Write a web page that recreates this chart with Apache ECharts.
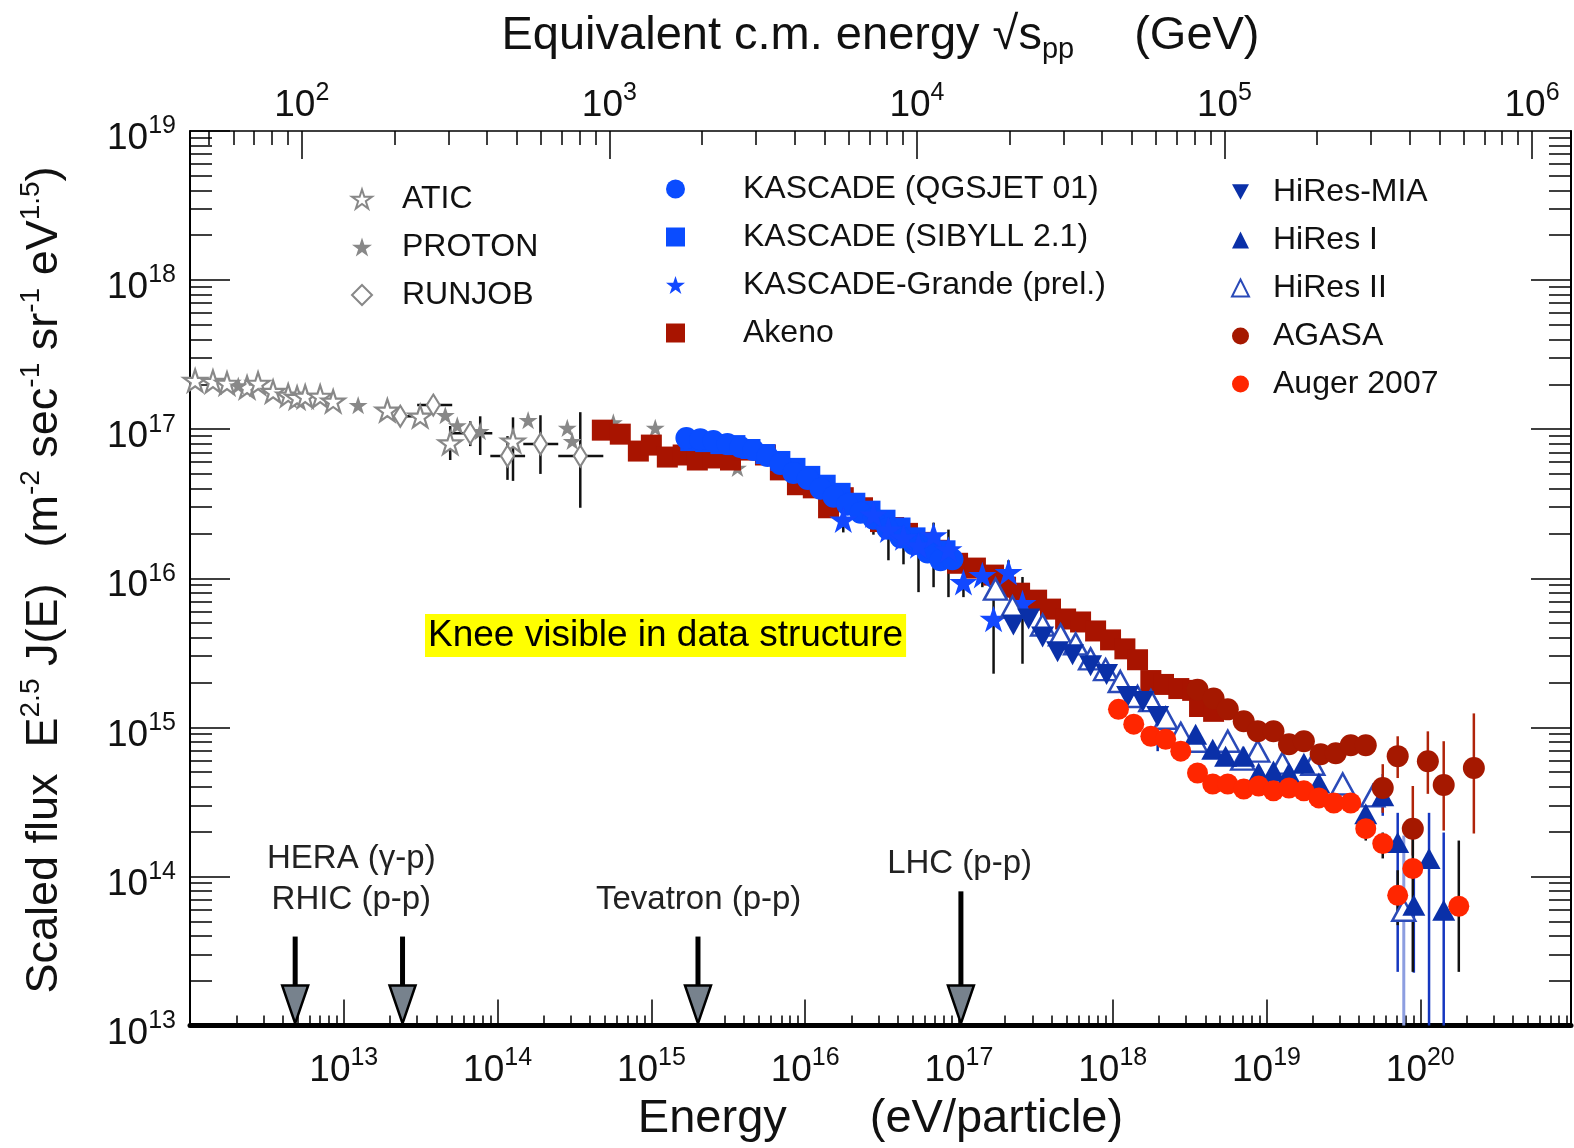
<!DOCTYPE html>
<html><head><meta charset="utf-8">
<script src="https://cdn.jsdelivr.net/npm/echarts@6/dist/echarts.min.js"></script>
<style>html,body{margin:0;padding:0;background:#fff}#c{width:1574px;height:1148px}</style>
</head><body><div id="c"></div>
<script>
// ---------- DATA (energy in eV, scaled flux E^2.5 J(E)) ----------
const atic = [[1.08e12,2.12e17],[1.41e12,2.09e17],[1.74e12,2.03e17],[2.35e12,1.91e17],[2.77e12,2.03e17],[3.47e12,1.79e17],[4.35e12,1.69e17],[4.97e12,1.63e17],[5.61e12,1.66e17],[7.02e12,1.66e17],[8.53e12,1.54e17],[1.92e13,1.34e17],[3.14e13,1.22e17],[4.92e13,8.07e16],[1.26e14,8.32e16]];
const aticErr = [[4.92e13,6.21e16,1.05e17],[1.26e14,4.5e16,1.2e17]];
const proton = [[2.06e12,1.96e17],[1.24e13,1.45e17],[4.57e13,1.24e17],[5.47e13,1.06e17],[7.71e13,9.7e16],[1.58e14,1.15e17],[2.84e14,1.02e17],[3.06e14,8.32e16],[5.66e14,1.11e17],[1.06e15,1.02e17],[3.63e15,5.5e16]];
const protonErr = [[7.71e13,6.71e16,1.22e17]];
const runjob = [[2.33e13,1.22e17],[3.82e13,1.45e17],[6.64e13,9.4e16],[1.16e14,6.61e16],[1.90e14,7.94e16],[3.45e14,6.61e16]];
const runjobErrE = [[1.22e17,1.92e13,3.0e13],[1.45e17,3.0e13,5.07e13],[9.4e16,4.92e13,9.24e13],[6.61e16,8.97e13,1.51e14],[7.94e16,1.47e14,2.48e14],[6.61e16,2.48e14,4.87e14]];
const runjobErrF = [[6.64e13,7.7e16,1.13e17],[1.16e14,4.57e16,8.98e16],[1.90e14,5.01e16,1.24e17],[3.45e14,2.97e16,1.30e17]];
const kascadeQ = [[1.69e15,8.71e16],[2.08e15,8.57e16],[2.53e15,8.32e16],[3.12e15,7.94e16],[3.79e15,7.59e16],[4.61e15,7.24e16],[5.69e15,6.61e16],[6.9e15,5.84e16],[8.39e15,5.09e16],[1.04e16,4.64e16],[1.26e16,3.98e16],[1.53e16,3.52e16],[1.88e16,3.11e16],[2.29e16,2.75e16],[2.78e16,2.51e16],[3.43e16,2.15e16],[4.17e16,1.88e16],[5.07e16,1.69e16],[6.25e16,1.49e16],[7.59e16,1.32e16],[9.08e16,1.34e16]];
const kascadeS = [[1.79e15,8.32e16],[2.24e15,8.19e16],[2.81e15,7.94e16],[3.52e15,7.82e16],[4.41e15,7.36e16],[5.52e15,6.81e16],[6.9e15,6.12e16],[8.65e15,5.5e16],[1.08e16,4.86e16],[1.36e16,4.24e16],[1.70e16,3.74e16],[2.12e16,3.21e16],[2.66e16,2.84e16],[3.33e16,2.47e16],[4.17e16,2.19e16],[5.22e16,1.88e16],[6.53e16,1.71e16],[8.18e16,1.54e16]];
const grande = [[1.77e16,2.47e16],[2.78e16,2.67e16],[3.48e16,2.12e16],[4.36e16,1.88e16],[5.46e16,1.66e16],[6.84e16,1.94e16],[8.55e16,1.56e16],[1.07e17,9.4e15],[1.42e17,1.05e16],[2.10e17,1.10e16],[1.68e17,5.33e15],[2.59e17,6.81e15]];
const grandeErr = [[1.77e16,2.03e16,2.97e16],[2.78e16,1.96e16,3.21e16],[3.48e16,1.32e16,2.55e16],[4.36e16,1.24e16,2.26e16],[5.46e16,8.07e15,1.88e16],[6.84e16,8.71e15,2.36e16],[8.55e16,7.47e15,2.12e16],[1.07e17,7.47e15,1.10e16],[1.42e17,8.71e15,1.28e16],[2.10e17,7.47e15,1.32e16],[1.68e17,2.29e15,1.02e16],[2.59e17,2.67e15,1.02e16]];
const akeno = [[4.80e14,9.85e16],[6.28e14,9.26e16],[8.23e14,7.13e16],[1.00e15,7.82e16],[1.27e15,6.5e16],[1.61e15,6.71e16],[1.99e15,6.21e16],[2.53e15,6.41e16],[3.27e15,6.21e16],[4.09e15,7.24e16],[5.52e15,6.71e16],[6.9e15,5.33e16],[8.91e15,4.24e16],[1.13e16,4.04e16],[1.42e16,2.97e16],[1.77e16,3.47e16],[2.36e16,2.97e16],[3.09e16,2.40e16],[3.76e16,2.19e16],[4.63e16,2.0e16],[5.80e16,1.74e16],[7.26e16,1.54e16],[9.8e16,1.26e16],[1.28e17,1.17e16],[1.68e17,1.05e16],[2.01e17,8.71e15],[2.48e17,7.94e15],[3.2e17,7.13e15],[3.94e17,6.21e15],[4.94e17,5.33e15],[6.18e17,5.09e15],[7.74e17,4.43e15],[9.68e17,3.86e15],[1.20e18,3.36e15],[1.45e18,2.84e15],[1.77e18,2.06e15],[2.14e18,1.94e15],[2.69e18,1.82e15],[3.31e18,1.77e15],[3.67e18,1.38e15],[4.53e18,1.28e15]];
const hiresMia = [[2.26e17,4.86e15],[2.84e17,5.33e15],[3.50e17,4.04e15],[4.38e17,3.21e15],[5.48e17,3.07e15],[7.18e17,2.59e15],[9.12e17,2.26e15],[1.25e18,1.61e15],[1.57e18,1.49e15],[1.96e18,1.18e15]];
const hiresMiaErr = [[1.96e18,6.92e14,1.49e15]];
const hires1 = [[3.46e18,8.98e14],[4.47e18,7.13e14],[5.42e18,6.41e14],[7.11e18,6.41e14],[8.89e18,4.94e14],[1.11e19,5.09e14],[1.40e19,4.94e14],[1.75e19,5.75e14],[2.19e19,4.24e14],[4.42e19,2.63e14],[5.70e19,3.47e14],[7.13e19,1.69e14],[9.08e19,6.41e13],[1.14e20,1.32e14],[1.42e20,5.93e13]];
const hires1Err = [[5.70e19,2.55e14,4.86e14],[7.13e19,2.29e13,2.67e14],[9.08e19,2.26e13,1.28e14],[1.14e20,1e12,2.67e14],[1.42e20,1e12,1.97e14]];
const hires2 = [[1.73e17,8.45e15],[2.23e17,6.41e15],[3.50e17,4.86e15],[4.58e17,4.17e15],[5.74e17,3.63e15],[7.18e17,2.88e15],[8.99e17,2.44e15],[1.12e18,2.03e15],[1.45e18,1.61e15],[1.77e18,1.51e15],[2.21e18,1.15e15],[2.77e18,9.12e14],[3.46e18,8.07e14],[5.6e18,8.07e14],[7.0e18,6.12e14],[8.77e18,6.92e14],[1.27e19,5.75e14],[2.0e19,5.66e14],[3.13e19,4.17e14],[4.91e19,3.47e14],[7.81e19,5.93e13]];
const hires2Err = [[7.81e19,1e12,1.88e14]];
const agasa = [[3.56e18,1.79e15],[4.53e18,1.56e15],[5.6e18,1.32e15],[7.11e18,1.10e15],[8.77e18,9.4e14],[1.11e19,9.4e14],[1.40e19,7.7e14],[1.75e19,8.07e14],[2.25e19,6.61e14],[2.82e19,6.71e14],[3.53e19,7.59e14],[4.42e19,7.59e14],[5.70e19,3.92e14],[7.13e19,6.41e14],[8.94e19,2.09e14],[1.12e20,5.93e14],[1.42e20,4.1e14],[2.23e20,5.33e14]];
const agasaErr = [[2.82e19,6.0e14,7.5e14],[4.42e19,6.8e14,8.5e14],[5.70e19,2.67e14,5.66e14],[7.13e19,4.57e14,8.71e14],[8.94e19,1.38e14,4.04e14],[1.12e20,3.58e14,9.4e14],[1.42e20,2.03e14,8.07e14],[2.23e20,1.94e14,1.24e15]];
const auger = [[1.09e18,1.32e15],[1.37e18,1.05e15],[1.77e18,8.71e14],[2.21e18,8.32e14],[2.77e18,6.92e14],[3.56e18,4.94e14],[4.47e18,4.17e14],[5.6e18,4.17e14],[7.11e18,3.86e14],[8.89e18,4.04e14],[1.11e19,3.75e14],[1.40e19,3.92e14],[1.75e19,3.75e14],[2.19e19,3.36e14],[2.74e19,3.11e14],[3.53e19,3.11e14],[4.42e19,2.09e14],[5.70e19,1.66e14],[7.13e19,7.47e13],[8.94e19,1.13e14],[1.78e20,6.31e13]];
const augerErr = [[3.56e18,4.6e14,5.3e14],[4.42e19,1.74e14,2.4e14],[5.70e19,1.32e14,1.97e14],[7.13e19,4.71e13,1.10e14],[8.94e19,2.29e13,1.88e14],[1.78e20,2.29e13,1.74e14]];
// accelerator arrows: energy, flux at top of shaft
const arrowE = [4.83e12, 2.41e13, 2.01e15, 1.03e17];
const arrowTopF = [3.95e13, 3.95e13, 3.95e13, 7.94e13];
const arrowLabelText = ['HERA (γ-p)', 'RHIC (p-p)', 'Tevatron (p-p)', 'LHC (p-p)'];
const arrowLabelE = [1.12e13, 1.12e13, 2.03e15, 1.01e17];
const arrowLabelF = [1.32e14, 6.92e13, 6.92e13, 1.22e14];
// axis ranges (log10)
const energyLogRange = [12, 20.98];
const fluxLogRange = [13, 19];
const PROTON_MASS_GEV = 0.938;

// ---------- CHART ----------
const FONT = '"Liberation Sans", Arial, Helvetica, sans-serif';
const L = Math.log10;
const XMIN = energyLogRange[0], XMAX = energyLogRange[1];
const SOFF = Math.log10(2 * PROTON_MASS_GEV) - 9;
const TMIN = (XMIN + SOFF) / 2, TMAX = (XMAX + SOFF) / 2;
const YMIN = fluxLogRange[0], YMAX = fluxLogRange[1];

function majors(a, b) { const r = []; for (let d = Math.ceil(a); d <= Math.floor(b); d++) r.push(d); return r; }
function minors(a, b) { const r = []; for (let d = Math.floor(a); d <= Math.ceil(b); d++) for (let k = 2; k <= 9; k++) { const v = d + Math.log10(k); if (v > a && v < b) r.push(v); } return r; }

const lblRich = {
  b: { fontSize: 37, lineHeight: 50, verticalAlign: 'middle', fontFamily: FONT, color: '#111' },
  s: { fontSize: 25, lineHeight: 25, verticalAlign: 'top', fontFamily: FONT, color: '#111' }
};
const powFmt = v => '{b|10}{s|' + Math.round(v) + '}';

const STAR = 'path://M50,0 L61.23,34.55 L97.55,34.55 L68.16,55.9 L79.39,90.45 L50,69.1 L20.61,90.45 L31.84,55.9 L2.45,34.55 L38.77,34.55 Z';
const DOWN_TRI = 'path://M0,0 L22,0 L11,20 Z';

function sc(name, data, opt) {
  const s = Object.assign({ type: 'scatter', name, xAxisIndex: 0, yAxisIndex: 0, silent: true, z: 3,
    data: data.map(d => [L(d[0]), L(d[1])]) }, opt);
  s.itemStyle = Object.assign({ opacity: 1 }, s.itemStyle);
  return s;
}
function err(name, data, color, width, horiz) {
  return { type: 'custom', name, xAxisIndex: 0, yAxisIndex: 0, silent: true, z: 2,
    data: data.map(d => horiz ? [L(d[1]), L(d[0]), L(d[2])] : [L(d[0]), Math.max(L(d[1]), YMIN), L(d[2])]),
    renderItem: (p, api) => {
      let a, b;
      if (horiz) { a = api.coord([api.value(0), api.value(1)]); b = api.coord([api.value(2), api.value(1)]); }
      else { a = api.coord([api.value(0), api.value(1)]); b = api.coord([api.value(0), api.value(2)]); }
      return { type: 'line', shape: { x1: a[0], y1: a[1], x2: b[0], y2: b[1] }, style: { stroke: color, lineWidth: width } };
    } };
}

const BLUE = '#0a4cff', DBLUE = '#0a30a8', AKENO = '#a81400', AGASA = '#a51800', AUGER = '#ff2600', GREY = '#888888';

const series = [
  err('e1', aticErr, '#111', 2.5), err('e2', protonErr, '#111', 2.5),
  err('e3', runjobErrE, '#111', 2.5, true), err('e4', runjobErrF, '#111', 2.5),
  err('e5', grandeErr, '#111', 2.5), err('e6', hiresMiaErr, DBLUE, 2.5),
  err('e7', hires2Err, '#8d9ee0', 3), err('e8', hires1Err, '#1537c0', 2.5),
  err('e9', agasaErr, '#b0240a', 2.5), err('e10', augerErr, '#111', 2.5),
  sc('ATIC', atic, { symbol: STAR, symbolSize: 23, symbolKeepAspect: true, itemStyle: { color: '#fff', borderColor: GREY, borderWidth: 2.2 } }),
  sc('PROTON', proton, { symbol: STAR, symbolSize: 19, symbolKeepAspect: true, itemStyle: { color: GREY } }),
  sc('RUNJOB', runjob, { symbol: 'diamond', symbolSize: [13, 21], itemStyle: { color: '#fff', borderColor: GREY, borderWidth: 2.2 } }),
  sc('Akeno', akeno, { symbol: 'rect', symbolSize: 21, itemStyle: { color: AKENO } }),
  sc('KASCADE (SIBYLL 2.1)', kascadeS, { symbol: 'rect', symbolSize: 20, itemStyle: { color: BLUE } }),
  sc('KASCADE (QGSJET 01)', kascadeQ, { symbol: 'circle', symbolSize: 22, itemStyle: { color: BLUE } }),
  sc('KASCADE-Grande (prel.)', grande, { symbol: STAR, symbolSize: 28, symbolKeepAspect: true, itemStyle: { color: '#1248ff' } }),
  sc('HiRes II', hires2, { symbol: 'triangle', symbolSize: [23, 21], itemStyle: { color: '#fff', borderColor: '#2a4ab8', borderWidth: 2.5 } }),
  sc('HiRes-MIA', hiresMia, { symbol: DOWN_TRI, symbolSize: [23, 21], itemStyle: { color: DBLUE } }),
  sc('HiRes I', hires1, { symbol: 'triangle', symbolSize: [23, 21], itemStyle: { color: DBLUE } }),
  sc('AGASA', agasa, { symbol: 'circle', symbolSize: 22, itemStyle: { color: AGASA } }),
  sc('Auger 2007', auger, { symbol: 'circle', symbolSize: 21, itemStyle: { color: AUGER } }),
  { type: 'custom', name: 'arrows', xAxisIndex: 0, yAxisIndex: 0, silent: true, z: 6,
    data: arrowE.map((e, i) => [L(e), L(arrowTopF[i])]),
    renderItem: (p, api) => {
      const t = api.coord([api.value(0), api.value(1)]);
      const b = api.coord([api.value(0), YMIN]);
      const hh = 40, hw = 13;
      return { type: 'group', children: [
        { type: 'rect', shape: { x: t[0] - 2.5, y: t[1], width: 5, height: b[1] - hh - t[1] + 2 }, style: { fill: '#000' } },
        { type: 'polygon', shape: { points: [[t[0] - hw, b[1] - hh], [t[0] + hw, b[1] - hh], [t[0], b[1] - 2]] }, style: { fill: '#77828d', stroke: '#000', lineWidth: 2.5 } }
      ] };
    } },
  { type: 'custom', name: 'arrowLabels', xAxisIndex: 0, yAxisIndex: 0, silent: true, z: 6,
    data: arrowLabelE.map((e, i) => [L(e), L(arrowLabelF[i])]),
    renderItem: (p, api) => {
      const c = api.coord([api.value(0), api.value(1)]);
      return { type: 'text', x: c[0], y: c[1], style: { text: arrowLabelText[p.dataIndex], fontSize: 33, fontFamily: FONT, fill: '#222', align: 'center', verticalAlign: 'middle' } };
    } }
];

const axisCommon = { type: 'value', splitLine: { show: false } };
const option = {
  animation: false,
  backgroundColor: '#fff',
  textStyle: { fontFamily: FONT },
  grid: { left: 190, right: 3, top: 131, bottom: 117, containLabel: false },
  xAxis: [
    Object.assign({}, axisCommon, { position: 'bottom', min: XMIN, max: XMAX,
      axisLine: { onZero: false, lineStyle: { color: '#000', width: 5 } },
      axisTick: { inside: true, length: 26, lineStyle: { color: '#000', width: 1.5 }, customValues: majors(XMIN + 0.5, XMAX) },
      axisLabel: { customValues: majors(XMIN + 0.5, XMAX), formatter: powFmt, rich: lblRich, margin: 20 },
      name: '{t|Energy}{g|}{t|(eV/particle)}', nameLocation: 'middle', nameGap: 68,
      nameTextStyle: { rich: { t: { fontSize: 47, lineHeight: 52, fontFamily: FONT, color: '#111' }, g: { width: 83 } } } }),
    Object.assign({}, axisCommon, { position: 'bottom', min: XMIN, max: XMAX,
      axisLine: { show: false },
      axisTick: { inside: true, length: 10, lineStyle: { color: '#000', width: 1.5 }, customValues: minors(XMIN, XMAX) },
      axisLabel: { show: false } }),
    Object.assign({}, axisCommon, { position: 'top', min: TMIN, max: TMAX,
      axisLine: { onZero: false, lineStyle: { color: '#000', width: 1.5 } },
      axisTick: { inside: true, length: 28, lineStyle: { color: '#000', width: 1.5 }, customValues: majors(TMIN, TMAX) },
      axisLabel: { customValues: majors(TMIN, TMAX), formatter: powFmt, rich: lblRich, margin: 0 },
      name: '{t|Equivalent c.m. energy }{t|√s}{sub|pp}{g|}{t|(GeV)}', nameLocation: 'middle', nameGap: 67,
      nameTextStyle: { rich: {
        t: { fontSize: 47, lineHeight: 56, verticalAlign: 'middle', fontFamily: FONT, color: '#111' },
        sub: { fontSize: 29, lineHeight: 28, verticalAlign: 'bottom', fontFamily: FONT, color: '#111' },
        g: { width: 60 } } } }),
    Object.assign({}, axisCommon, { position: 'top', min: TMIN, max: TMAX,
      axisLine: { show: false },
      axisTick: { inside: true, length: 14, lineStyle: { color: '#000', width: 1.5 }, customValues: minors(TMIN, TMAX) },
      axisLabel: { show: false } })
  ],
  yAxis: [
    Object.assign({}, axisCommon, { position: 'left', min: YMIN, max: YMAX,
      axisLine: { onZero: false, lineStyle: { color: '#000', width: 2 } },
      axisTick: { inside: true, length: 40, lineStyle: { color: '#000', width: 1.5 }, customValues: majors(YMIN, YMAX) },
      axisLabel: { customValues: majors(YMIN, YMAX), formatter: powFmt, rich: lblRich, margin: 14, padding: [16, 0, 0, 0] } }),
    Object.assign({}, axisCommon, { position: 'left', min: YMIN, max: YMAX,
      axisLine: { show: false },
      axisTick: { inside: true, length: 22, lineStyle: { color: '#000', width: 1.5 }, customValues: minors(YMIN, YMAX) },
      axisLabel: { show: false } }),
    Object.assign({}, axisCommon, { position: 'right', min: YMIN, max: YMAX,
      axisLine: { onZero: false, lineStyle: { color: '#000', width: 2 } },
      axisTick: { inside: true, length: 40, lineStyle: { color: '#000', width: 1.5 }, customValues: majors(YMIN + 0.5, YMAX - 0.5) },
      axisLabel: { show: false } }),
    Object.assign({}, axisCommon, { position: 'right', min: YMIN, max: YMAX,
      axisLine: { show: false },
      axisTick: { inside: true, length: 22, lineStyle: { color: '#000', width: 1.5 }, customValues: minors(YMIN, YMAX) },
      axisLabel: { show: false } })
  ],
  legend: [
    { data: ['ATIC', 'PROTON', 'RUNJOB'], orient: 'vertical', left: 351, top: 181, padding: 0,
      itemWidth: 20, itemHeight: 20, itemGap: 12, selectedMode: false,
      textStyle: { fontSize: 32, lineHeight: 36, fontFamily: FONT, color: '#111', padding: [0, 0, 0, 25] } },
    { data: ['KASCADE (QGSJET 01)', 'KASCADE (SIBYLL 2.1)', 'KASCADE-Grande (prel.)', 'Akeno'], orient: 'vertical', left: 666, top: 171, padding: 0,
      itemWidth: 19, itemHeight: 19, itemGap: 12, selectedMode: false,
      textStyle: { fontSize: 32, lineHeight: 36, fontFamily: FONT, color: '#111', padding: [0, 0, 0, 53] } },
    { data: ['HiRes-MIA', 'HiRes I', 'HiRes II', 'AGASA', 'Auger 2007'], orient: 'vertical', left: 1231, top: 174, padding: 0,
      itemWidth: 17, itemHeight: 17, itemGap: 12, selectedMode: false,
      textStyle: { fontSize: 32, lineHeight: 36, fontFamily: FONT, color: '#111', padding: [0, 0, 0, 19] } }
  ],
  graphic: [
    { type: 'text', left: 425, top: 614, z: 10,
      style: { text: 'Knee visible in data structure', fontSize: 37, lineHeight: 39, fontFamily: FONT, fill: '#000', backgroundColor: '#ffff00', padding: [2, 3, 2, 3] } },
    { type: 'text', x: 45, y: 580, rotation: Math.PI / 2, z: 10,
      style: { text: '{t|Scaled flux}{g1|}{t|E}{sup|2.5}{t| J(E)}{g2|}{t|(m}{sup|-2}{t| sec}{sup|-1}{t| sr}{sup|-1}{t| eV}{sup|1.5}{t|)}',
        align: 'center', verticalAlign: 'middle',
        rich: {
          t: { fontSize: 45, lineHeight: 56, verticalAlign: 'middle', fontFamily: FONT, fill: '#111', color: '#111' },
          sup: { fontSize: 28, lineHeight: 30, verticalAlign: 'top', fontFamily: FONT, fill: '#111', color: '#111' },
          g1: { width: 26 }, g2: { width: 36 }
        } } }
  ],
  series
};
const chart = echarts.init(document.getElementById('c'), null, { renderer: 'canvas' });
chart.setOption(option);
</script>
</body></html>
